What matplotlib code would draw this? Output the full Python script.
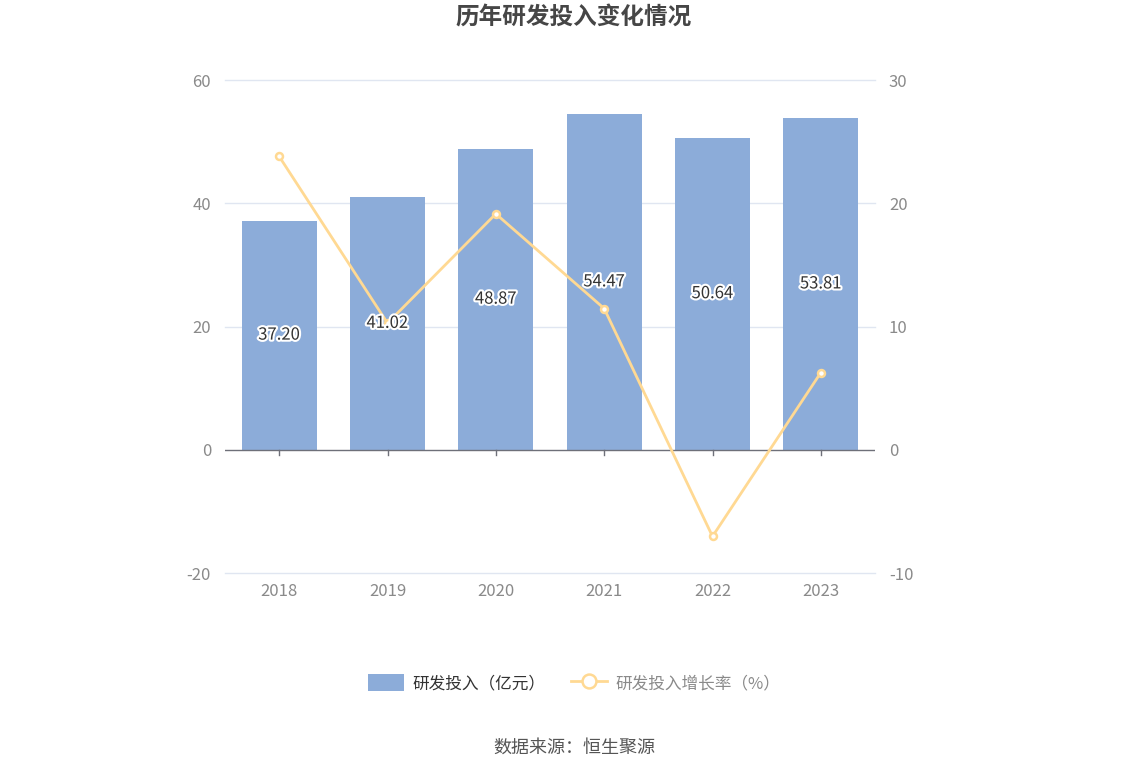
import matplotlib
matplotlib.use("Agg")
import matplotlib.pyplot as plt
import matplotlib.patheffects as pe
from matplotlib.lines import Line2D
from matplotlib.patches import Patch

plt.rcParams['font.family'] = ['Noto Sans CJK SC', 'DejaVu Sans']
plt.rcParams['axes.unicode_minus'] = False

years = ['2018', '2019', '2020', '2021', '2022', '2023']
rd_invest = [37.20, 41.02, 48.87, 54.47, 50.64, 53.81]
rd_growth = [23.8, 10.27, 19.14, 11.46, -7.03, 6.26]
left_ticks = [-20, 0, 20, 40, 60]
right_ticks = [-10, 0, 10, 20, 30]

bar_color = '#8CACD9'
line_color = '#FFD993'
grid_color = '#E0E6F1'
tick_text = '#8A8A8A'

fig = plt.figure(figsize=(11.48, 7.76), dpi=100)
ax = fig.add_axes([225/1148, 1-573/776, 650/1148, (573-80)/776])
ax2 = ax.twinx()

x = list(range(len(years)))
ax.set_xlim(-0.5, len(years)-0.5)
ax.set_ylim(-20, 60)
ax2.set_ylim(-10, 30)
ax.set_yticks(left_ticks)
ax2.set_yticks(right_ticks)

for t in left_ticks:
    if t != 0:
        ax.axhline(t, color=grid_color, lw=1, zorder=0, clip_on=False)
ax.axhline(0, color='#6E7079', lw=1, zorder=3)

ax.bar(x, rd_invest, width=0.69, color=bar_color, zorder=2)

for xi in x:
    ax.plot([xi, xi], [0, -0.9], color='#6E7079', lw=1, zorder=3, clip_on=False)

ax2.set_zorder(ax.get_zorder()+1)
ax2.patch.set_visible(False)

ax2.plot(x, rd_growth, color=line_color, lw=2, marker='o', markersize=5,
         markerfacecolor='white', markeredgecolor=line_color, markeredgewidth=1.8, zorder=4)

# bar value labels (placed at bar middle, drawn above the line)
for xi, v in zip(x, rd_invest):
    ax2.text(xi, v/4, f'{v:.2f}', ha='center', va='center', fontsize=12, color='#333333',
             zorder=6, path_effects=[pe.withStroke(linewidth=3, foreground='white')])

for a in (ax, ax2):
    for s in a.spines.values():
        s.set_visible(False)
    a.tick_params(axis='y', length=0, labelsize=12, labelcolor=tick_text, pad=10)

ax.set_xticks(x)
ax.set_xticklabels(years)
ax.tick_params(axis='x', length=0, labelsize=12, labelcolor=tick_text, pad=7)

fig.text(0.5, 1-18/776, '历年研发投入变化情况', ha='center', va='center', fontsize=17,
         fontweight='bold', color='#464646')

handles = [Patch(facecolor=bar_color, edgecolor='none'),
           Line2D([0], [0], color=line_color, lw=2, marker='o', markersize=10,
                  markerfacecolor='white', markeredgecolor=line_color, markeredgewidth=1.8)]
leg = fig.legend(handles, ['研发投入（亿元）', '研发投入增长率（%）'], loc='center',
                 bbox_to_anchor=(0.5, 1-683/776), ncol=2, frameon=False, fontsize=12,
                 handlelength=2.2, handleheight=1.2, columnspacing=1.5, handletextpad=0.5)
for txt, c in zip(leg.get_texts(), ['#333333', '#8A8A8A']):
    txt.set_color(c)

fig.text(0.5, 1-748/776, '数据来源：恒生聚源', ha='center', va='center', fontsize=13, color='#555555')

fig.savefig('out.png', dpi=100)
